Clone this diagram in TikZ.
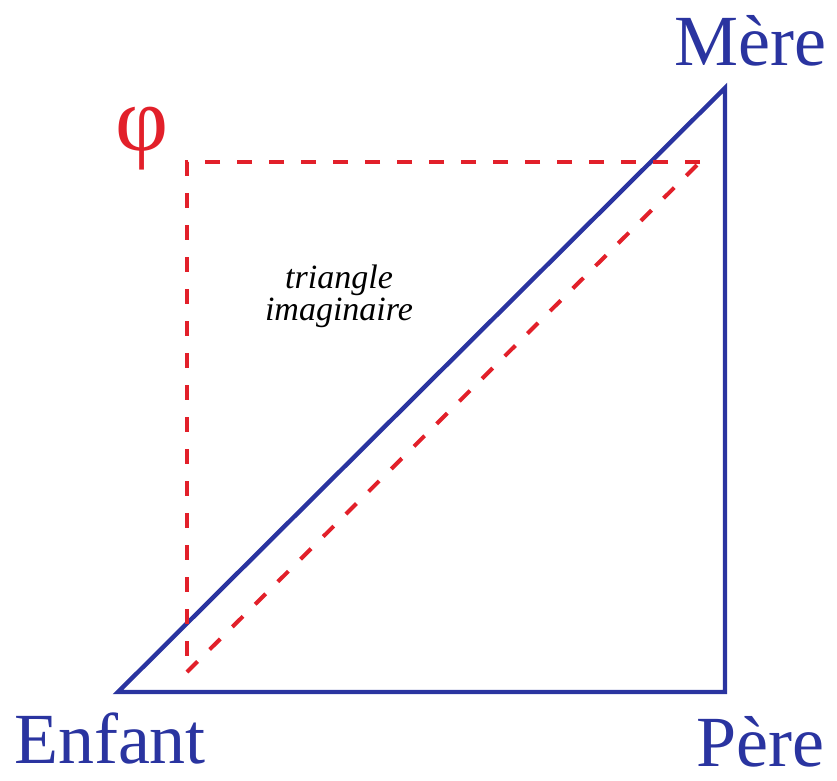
\documentclass[tikz,border=0pt]{standalone}
\usepackage{fontspec}
\setmainfont{Liberation Serif}
\usepackage{tikz}
\usetikzlibrary{arrows.meta}
\usepackage{xcolor}
\definecolor{bleu}{RGB}{42,52,160}
\definecolor{rouge}{RGB}{226,32,42}

\begin{document}
\begin{tikzpicture}[x=1pt,y=-1pt,line cap=butt,
  sommet/.style={bleu,anchor=base,inner sep=0pt,font=\fontsize{72}{80}\selectfont},
  imaginaire/.style={rouge,line width=4pt,dash pattern=on 15pt off 17pt}]
\useasboundingbox (0,0) rectangle (837,780);
% triangle reel
\coordinate (E) at (118,692);
\coordinate (P) at (725,692);
\coordinate (M) at (725,88);
\draw[bleu,line width=4.4pt,line join=miter] (E) -- (P) -- (M) -- cycle;
% triangle imaginaire
\coordinate (phi) at (187,162);
\coordinate (A) at (700,162);
\coordinate (B) at (187,672);
\draw[imaginaire] (A) -- (phi) -- (B);
\draw[imaginaire] (B) -- (A);
% etiquettes
\node[sommet] (enfant) at (110,763) {Enfant};
\node[sommet] (pere) at (760,766) {Père};
\node[sommet] (mere) at (750,65) {Mère};
\node[rouge,anchor=base,inner sep=0pt,font=\fontsize{92}{100}\selectfont] (lphi) at (142,150) {φ};
\node[align=center,inner sep=0pt,font=\fontsize{34}{32}\selectfont\itshape] (texte) at (339,296) {triangle\\imaginaire};
\end{tikzpicture}
\end{document}
